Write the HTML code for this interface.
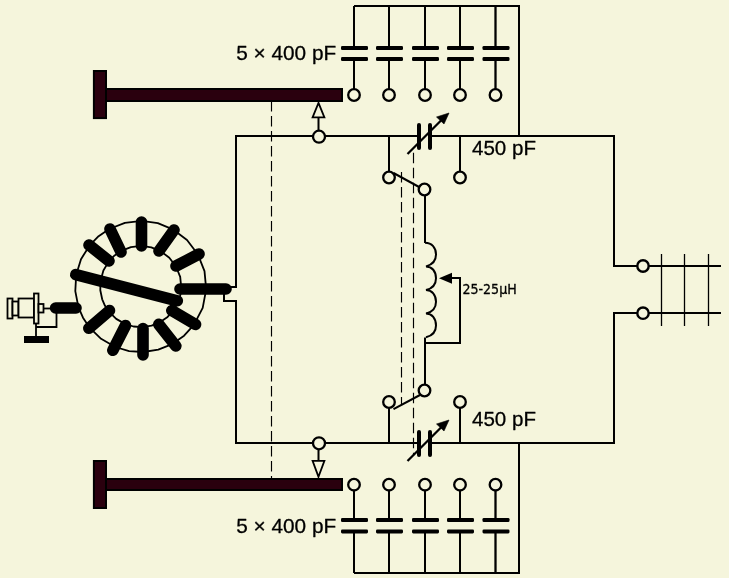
<!DOCTYPE html>
<html><head><meta charset="utf-8"><title>Antenna tuner schematic</title>
<style>
html,body{margin:0;padding:0;background:#f5f5dc;overflow:hidden}
svg{display:block;will-change:transform}
text{font-family:"Liberation Sans",sans-serif;fill:#000;stroke:#000;stroke-width:0.3px;stroke-linejoin:round}
text.lbl{font-family:"DejaVu Sans Condensed","DejaVu Sans","Liberation Sans",sans-serif;stroke-width:0.3px}
</style></head>
<body>
<svg width="729" height="578" viewBox="0 0 729 578" stroke="#000" fill="none">
<rect x="0" y="0" width="729" height="578" fill="#f5f5dc" stroke="none"/>
<polyline points="230,287 236,287 236,136 614,136 614,266 637,266" stroke-width="2" fill="none" />
<polyline points="224,294 224,301 236,301 236,443 614,443 614,313 637,313" stroke-width="2" fill="none" />
<line x1="649" y1="266" x2="721" y2="266" stroke-width="2" />
<line x1="649" y1="313" x2="721" y2="313" stroke-width="2" />
<line x1="661.5" y1="254" x2="661.5" y2="326" stroke-width="1.3" />
<line x1="684.5" y1="254" x2="684.5" y2="326" stroke-width="1.3" />
<line x1="708.5" y1="254" x2="708.5" y2="326" stroke-width="1.3" />
<circle cx="643" cy="266" r="5.7" stroke-width="2.4" fill="#f5f5dc"/>
<circle cx="643" cy="313.2" r="5.7" stroke-width="2.4" fill="#f5f5dc"/>
<polyline points="354,6 519,6 519,136" stroke-width="2" fill="none" />
<polyline points="354,573 519,573 519,443" stroke-width="2" fill="none" />
<line x1="354" y1="6" x2="354" y2="47" stroke-width="2" />
<rect x="341" y="46" width="27" height="4" rx="1.3" fill="#000" stroke="none"/>
<rect x="341" y="57.1" width="27" height="4" rx="1.3" fill="#000" stroke="none"/>
<line x1="354" y1="59" x2="354" y2="89" stroke-width="2" />
<circle cx="354" cy="95" r="5.8" stroke-width="2.3" fill="#f5f5dc"/>
<line x1="354" y1="573" x2="354" y2="532" stroke-width="2" />
<rect x="341" y="518" width="27" height="4" rx="1.3" fill="#000" stroke="none"/>
<rect x="341" y="529.4" width="27" height="4" rx="1.3" fill="#000" stroke="none"/>
<line x1="354" y1="520" x2="354" y2="491" stroke-width="2" />
<circle cx="354" cy="484.7" r="5.8" stroke-width="2.3" fill="#f5f5dc"/>
<line x1="389" y1="6" x2="389" y2="47" stroke-width="2" />
<rect x="376" y="46" width="27" height="4" rx="1.3" fill="#000" stroke="none"/>
<rect x="376" y="57.1" width="27" height="4" rx="1.3" fill="#000" stroke="none"/>
<line x1="389" y1="59" x2="389" y2="89" stroke-width="2" />
<circle cx="389" cy="95" r="5.8" stroke-width="2.3" fill="#f5f5dc"/>
<line x1="389" y1="573" x2="389" y2="532" stroke-width="2" />
<rect x="376" y="518" width="27" height="4" rx="1.3" fill="#000" stroke="none"/>
<rect x="376" y="529.4" width="27" height="4" rx="1.3" fill="#000" stroke="none"/>
<line x1="389" y1="520" x2="389" y2="491" stroke-width="2" />
<circle cx="389" cy="484.7" r="5.8" stroke-width="2.3" fill="#f5f5dc"/>
<line x1="425" y1="6" x2="425" y2="47" stroke-width="2" />
<rect x="412" y="46" width="27" height="4" rx="1.3" fill="#000" stroke="none"/>
<rect x="412" y="57.1" width="27" height="4" rx="1.3" fill="#000" stroke="none"/>
<line x1="425" y1="59" x2="425" y2="89" stroke-width="2" />
<circle cx="425" cy="95" r="5.8" stroke-width="2.3" fill="#f5f5dc"/>
<line x1="425" y1="573" x2="425" y2="532" stroke-width="2" />
<rect x="412" y="518" width="27" height="4" rx="1.3" fill="#000" stroke="none"/>
<rect x="412" y="529.4" width="27" height="4" rx="1.3" fill="#000" stroke="none"/>
<line x1="425" y1="520" x2="425" y2="491" stroke-width="2" />
<circle cx="425" cy="484.7" r="5.8" stroke-width="2.3" fill="#f5f5dc"/>
<line x1="460" y1="6" x2="460" y2="47" stroke-width="2" />
<rect x="447" y="46" width="27" height="4" rx="1.3" fill="#000" stroke="none"/>
<rect x="447" y="57.1" width="27" height="4" rx="1.3" fill="#000" stroke="none"/>
<line x1="460" y1="59" x2="460" y2="89" stroke-width="2" />
<circle cx="460" cy="95" r="5.8" stroke-width="2.3" fill="#f5f5dc"/>
<line x1="460" y1="573" x2="460" y2="532" stroke-width="2" />
<rect x="447" y="518" width="27" height="4" rx="1.3" fill="#000" stroke="none"/>
<rect x="447" y="529.4" width="27" height="4" rx="1.3" fill="#000" stroke="none"/>
<line x1="460" y1="520" x2="460" y2="491" stroke-width="2" />
<circle cx="460" cy="484.7" r="5.8" stroke-width="2.3" fill="#f5f5dc"/>
<line x1="495.5" y1="6" x2="495.5" y2="47" stroke-width="2.3" />
<rect x="482.5" y="46" width="27" height="4" rx="1.3" fill="#000" stroke="none"/>
<rect x="482.5" y="57.1" width="27" height="4" rx="1.3" fill="#000" stroke="none"/>
<line x1="495.5" y1="59" x2="495.5" y2="89" stroke-width="2.3" />
<circle cx="495.5" cy="95" r="5.8" stroke-width="2.3" fill="#f5f5dc"/>
<line x1="495.5" y1="573" x2="495.5" y2="532" stroke-width="2.3" />
<rect x="482.5" y="518" width="27" height="4" rx="1.3" fill="#000" stroke="none"/>
<rect x="482.5" y="529.4" width="27" height="4" rx="1.3" fill="#000" stroke="none"/>
<line x1="495.5" y1="520" x2="495.5" y2="491" stroke-width="2.3" />
<circle cx="495.5" cy="484.7" r="5.8" stroke-width="2.3" fill="#f5f5dc"/>
<rect x="106" y="89" width="236" height="12" fill="#2a000e" stroke="#000" stroke-width="2"/>
<rect x="93.9" y="71" width="12.1" height="47.099999999999994" fill="#2a000e" stroke="#000" stroke-width="2"/>
<rect x="106" y="479" width="236" height="11" fill="#2a000e" stroke="#000" stroke-width="2"/>
<rect x="93.9" y="461" width="12.1" height="47" fill="#2a000e" stroke="#000" stroke-width="2"/>
<line x1="271.5" y1="101" x2="271.5" y2="478" stroke-width="1.15" stroke-dasharray="10.4 4.6"/>
<polygon points="318.5,102.8 324.4,117.3 312.6,117.3" stroke-width="1.8" fill="#f5f5dc" stroke-linejoin="miter"/>
<line x1="318.5" y1="118" x2="318.5" y2="131" stroke-width="2" />
<circle cx="319" cy="136.7" r="6" stroke-width="2.3" fill="#f5f5dc"/>
<polygon points="318.5,476.8 324.4,460.8 312.6,460.8" stroke-width="1.8" fill="#f5f5dc" stroke-linejoin="miter"/>
<line x1="318.5" y1="460" x2="318.5" y2="449" stroke-width="2" />
<circle cx="319" cy="443.3" r="6" stroke-width="2.3" fill="#f5f5dc"/>
<rect x="421" y="133" width="7" height="6" fill="#f5f5dc" stroke="none"/>
<line x1="419" y1="125" x2="419" y2="148" stroke-width="4" stroke-linecap="round"/>
<line x1="430" y1="125" x2="430" y2="148" stroke-width="4" stroke-linecap="round"/>
<line x1="407.5" y1="154" x2="442" y2="119.5" stroke-width="2.3" />
<polygon points="449,113 436.5,117 444,124" fill="#000" stroke="#000" stroke-width="0.6" stroke-linejoin="round"/>
<rect x="421" y="440" width="7" height="6" fill="#f5f5dc" stroke="none"/>
<line x1="419" y1="432" x2="419" y2="455" stroke-width="4" stroke-linecap="round"/>
<line x1="430" y1="432" x2="430" y2="455" stroke-width="4" stroke-linecap="round"/>
<line x1="407.5" y1="461" x2="442" y2="426.5" stroke-width="2.3" />
<polygon points="449,420 436.5,424 444,431" fill="#000" stroke="#000" stroke-width="0.6" stroke-linejoin="round"/>
<line x1="389" y1="136" x2="389" y2="172" stroke-width="2" />
<line x1="460" y1="136" x2="460" y2="172" stroke-width="2" />
<line x1="389" y1="443" x2="389" y2="408" stroke-width="2" />
<line x1="460" y1="443" x2="460" y2="408" stroke-width="2" />
<line x1="393.5" y1="173" x2="420" y2="187.5" stroke-width="2" />
<line x1="393.5" y1="409.2" x2="420" y2="395" stroke-width="2" />
<circle cx="389" cy="177.5" r="5.8" stroke-width="2.3" fill="#f5f5dc"/>
<circle cx="460" cy="177.5" r="5.8" stroke-width="2.3" fill="#f5f5dc"/>
<circle cx="424.5" cy="189.5" r="5.8" stroke-width="2.3" fill="#f5f5dc"/>
<circle cx="389" cy="402" r="5.8" stroke-width="2.3" fill="#f5f5dc"/>
<circle cx="460" cy="402" r="5.8" stroke-width="2.3" fill="#f5f5dc"/>
<circle cx="424.5" cy="390.5" r="5.8" stroke-width="2.3" fill="#f5f5dc"/>
<line x1="401.5" y1="172" x2="401.5" y2="404" stroke-width="1.15" stroke-dasharray="10.4 4.6"/>
<line x1="413.5" y1="152.8" x2="413.5" y2="456" stroke-width="1.15" stroke-dasharray="10.4 4.6"/>
<line x1="425" y1="195" x2="425" y2="243" stroke-width="2" />
<path d="M425,242.8 C432,242.8 436,247.8 436,254.60000000000002 C436,260.8 432.5,264.8 426,266.40000000000003 C432,266.40000000000003 436,271.40000000000003 436,278.20000000000005 C436,284.40000000000003 432.5,288.40000000000003 426,290.00000000000006 C432,290.00000000000006 436,295.00000000000006 436,301.80000000000007 C436,308.00000000000006 432.5,312.00000000000006 426,313.6000000000001 C432,313.6000000000001 436,318.6000000000001 436,325.4000000000001 C436,331.6000000000001 432.5,335.6000000000001 426,337.2000000000001 " fill="none" stroke-width="2"/>
<polyline points="425,337.5 425,343 460,343 460,278 450,278" stroke-width="2" fill="none" />
<line x1="425" y1="343" x2="425" y2="385" stroke-width="2" />
<polygon points="439,278.3 452,272.8 452,283.8" fill="#000" stroke="none"/>
<polygon points="76.2,274.7 81.0,259.2 89.6,245.4 98.6,236.2 109.2,229.0 124.9,222.8 141.7,220.9 157.8,223.2 172.8,229.3 187.0,240.0 197.8,254.2 204.5,271.1 206.2,289.1 202.7,307.9 193.9,324.9 184.1,335.7 172.2,344.1 158.3,349.7 143.4,352.0 129.1,351.1 115.3,347.0 101.1,338.8 89.3,327.3 83.0,317.7 78.4,307.2 75.3,291.1" fill="none" stroke-width="1.8" stroke-linejoin="round"/>
<polygon points="100.5,281.0 103.4,270.5 109.0,261.1 114.6,255.4 121.2,250.9 130.9,247.1 141.3,245.9 151.3,247.3 160.6,251.1 169.3,257.7 176.0,266.5 180.2,276.9 181.3,288.1 180.4,294.8 178.5,301.3 173.6,310.2 167.6,316.9 160.2,322.1 151.6,325.6 142.4,327.1 133.5,326.5 125.0,323.9 116.2,318.9 108.9,311.7 105.0,305.8 102.2,299.3 100.3,290.3" fill="none" stroke-width="1.8" stroke-linejoin="round"/>
<line x1="141.5" y1="222" x2="141.5" y2="246" stroke-width="11.6" stroke-linecap="round"/>
<line x1="110" y1="229" x2="121" y2="252" stroke-width="11.6" stroke-linecap="round"/>
<line x1="89" y1="245" x2="109" y2="261" stroke-width="11.6" stroke-linecap="round"/>
<line x1="75.8" y1="274.6" x2="177.3" y2="300.8" stroke-width="11.6" stroke-linecap="round"/>
<line x1="174" y1="230" x2="159" y2="251" stroke-width="11.6" stroke-linecap="round"/>
<line x1="199" y1="254" x2="176" y2="266" stroke-width="11.6" stroke-linecap="round"/>
<line x1="180" y1="289" x2="226" y2="289" stroke-width="11.6" stroke-linecap="round"/>
<line x1="171.8" y1="310.6" x2="195.6" y2="324.4" stroke-width="11.6" stroke-linecap="round"/>
<line x1="158.8" y1="324.3" x2="175.8" y2="346" stroke-width="11.6" stroke-linecap="round"/>
<line x1="143" y1="328.5" x2="143" y2="355" stroke-width="11.6" stroke-linecap="round"/>
<line x1="125.5" y1="325.5" x2="112.8" y2="350.3" stroke-width="11.6" stroke-linecap="round"/>
<line x1="109.5" y1="310.6" x2="88.8" y2="328.3" stroke-width="11.6" stroke-linecap="round"/>
<line x1="55.6" y1="308" x2="76" y2="308" stroke-width="11.6" stroke-linecap="round"/>
<rect x="7.5" y="298.5" width="5.0" height="20.0" fill="#f5f5dc" stroke-width="1.8"/>
<rect x="12.5" y="301.5" width="6.0" height="14.0" fill="#f5f5dc" stroke-width="1.8"/>
<rect x="18.5" y="298.5" width="15.5" height="19.0" fill="#f5f5dc" stroke-width="1.8"/>
<rect x="34" y="293.5" width="4.5" height="30.0" fill="#f5f5dc" stroke-width="1.8"/>
<rect x="38.5" y="304" width="5.0" height="8.5" fill="#f5f5dc" stroke-width="1.8"/>
<line x1="43.5" y1="308.5" x2="52" y2="308.5" stroke-width="1.8" />
<polyline points="56.5,312 56.5,327 36,327" stroke-width="1.8" fill="none" />
<line x1="36" y1="323.5" x2="36" y2="337" stroke-width="1.8" />
<rect x="24" y="336" width="25" height="7" fill="#000" stroke="none"/>

<text x="236.2" y="59.9" font-size="21" textLength="100" lengthAdjust="spacingAndGlyphs">5 × 400 pF</text>
<text x="236.2" y="533" font-size="21" textLength="100" lengthAdjust="spacingAndGlyphs">5 × 400 pF</text>
<text x="472" y="154.5" font-size="21" textLength="64" lengthAdjust="spacingAndGlyphs">450 pF</text>
<text x="472" y="426" font-size="21" textLength="64" lengthAdjust="spacingAndGlyphs">450 pF</text>
<text class="lbl" x="462.4" y="294.2" font-size="14.9" textLength="54.3" lengthAdjust="spacingAndGlyphs">25-25µH</text>

</svg>
</body></html>
